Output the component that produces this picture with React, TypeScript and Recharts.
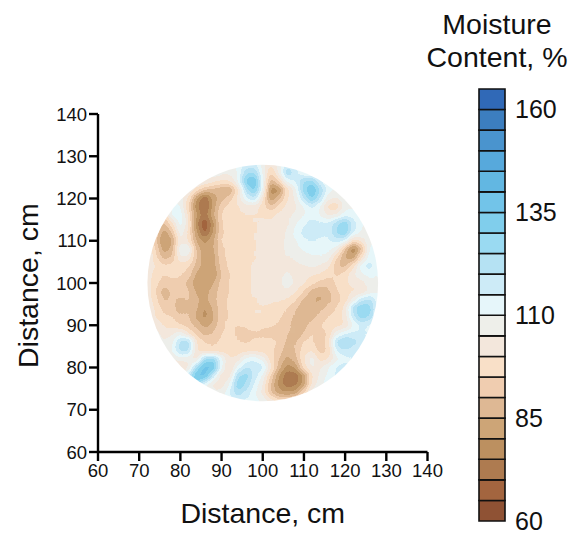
import { ScatterChart, Scatter, XAxis, YAxis, BarChart, Bar } from 'recharts'

// axis ticks
const distanceTicks = [60, 70, 80, 90, 100, 110, 120, 130, 140]
const legendTicks = [60, 85, 110, 135, 160]

// grid the moisture was read on, cm
const gridX = [70, 72, 74, 76, 78, 80, 82, 84, 86, 88, 90, 92, 94, 96, 98, 100, 102, 104, 106, 108, 110, 112, 114, 116, 118, 120, 122, 124, 126, 128, 130]
const gridY = [130, 128, 126, 124, 122, 120, 118, 116, 114, 112, 110, 108, 106, 104, 102, 100, 98, 96, 94, 92, 90, 88, 86, 84, 82, 80, 78, 76, 74, 72, 70]

// moisture content, %, one row per gridY and one column per gridX
const moisture = [
  [108, 108, 108, 108, 108, 108, 108, 108, 108, 108, 108, 108, 110, 112, 112, 108, 106, 108, 112, 110, 108, 108, 108, 108, 108, 108, 108, 108, 108, 108, 108],
  [108, 108, 108, 108, 108, 108, 108, 108, 108, 108, 108, 108, 112, 116, 116, 108, 100, 108, 118, 112, 108, 108, 108, 108, 108, 108, 108, 108, 108, 108, 108],
  [108, 108, 108, 108, 108, 108, 108, 108, 108, 108, 107, 106, 110, 124, 126, 110, 94, 106, 125, 118, 110, 108, 108, 108, 108, 108, 108, 108, 108, 108, 108],
  [108, 108, 108, 108, 108, 108, 108, 107, 106, 102, 100, 100, 110, 132, 138, 112, 86, 96, 112, 115, 125, 128, 115, 110, 108, 108, 108, 108, 108, 108, 108],
  [108, 108, 108, 108, 108, 108, 107, 98, 90, 88, 86, 84, 98, 122, 132, 112, 76, 78, 98, 108, 128, 136, 125, 112, 110, 108, 108, 108, 108, 108, 108],
  [108, 108, 108, 108, 108, 108, 100, 80, 70, 82, 88, 92, 101, 114, 120, 102, 80, 88, 100, 106, 120, 132, 120, 106, 105, 108, 108, 108, 108, 108, 108],
  [110, 110, 110, 110, 110, 112, 95, 76, 68, 82, 93, 97, 100, 103, 103, 98, 90, 97, 102, 104, 110, 116, 110, 98, 96, 108, 110, 110, 110, 110, 110],
  [108, 108, 108, 94, 112, 114, 100, 80, 72, 84, 96, 98, 99, 100, 100, 100, 99, 102, 104, 106, 110, 112, 110, 104, 106, 113, 112, 110, 110, 110, 110],
  [107, 107, 100, 88, 98, 114, 102, 76, 65, 78, 95, 98, 98, 99, 100, 101, 101, 102, 104, 110, 114, 118, 116, 116, 124, 130, 118, 110, 110, 110, 110],
  [106, 106, 96, 82, 90, 110, 100, 80, 68, 80, 94, 97, 97, 98, 100, 101, 102, 103, 106, 112, 117, 118, 117, 116, 126, 131, 116, 110, 110, 110, 110],
  [106, 106, 92, 78, 84, 104, 100, 84, 78, 84, 96, 97, 96, 97, 100, 102, 103, 104, 106, 110, 114, 115, 114, 114, 118, 116, 98, 102, 110, 110, 110],
  [107, 107, 95, 82, 86, 110, 112, 88, 82, 84, 94, 96, 96, 97, 100, 102, 103, 104, 106, 108, 111, 112, 112, 112, 108, 90, 74, 88, 112, 110, 110],
  [108, 108, 97, 88, 90, 105, 104, 90, 82, 82, 94, 96, 97, 98, 100, 102, 103, 104, 105, 106, 108, 110, 110, 108, 96, 84, 82, 98, 114, 110, 110],
  [107, 107, 100, 96, 97, 98, 96, 88, 82, 82, 92, 96, 98, 99, 101, 102, 103, 103, 104, 104, 105, 106, 105, 102, 90, 88, 98, 114, 118, 110, 110],
  [104, 104, 98, 95, 96, 96, 93, 84, 80, 80, 90, 95, 98, 99, 101, 102, 103, 104, 106, 104, 102, 101, 100, 97, 94, 97, 105, 110, 112, 110, 110],
  [104, 104, 97, 92, 94, 93, 89, 81, 80, 84, 92, 95, 97, 99, 101, 102, 103, 104, 108, 105, 101, 97, 93, 92, 96, 100, 101, 103, 108, 110, 110],
  [104, 104, 95, 87, 91, 93, 91, 84, 82, 88, 92, 95, 97, 99, 101, 102, 102, 103, 105, 101, 95, 88, 86, 89, 94, 98, 100, 100, 106, 110, 110],
  [105, 105, 97, 89, 91, 89, 91, 86, 84, 88, 93, 96, 98, 100, 100, 101, 101, 101, 100, 96, 89, 85, 84, 88, 92, 97, 106, 118, 122, 112, 110],
  [107, 107, 99, 93, 93, 86, 89, 86, 79, 86, 93, 96, 97, 99, 100, 100, 99, 97, 95, 91, 86, 85, 88, 92, 95, 102, 122, 131, 128, 112, 110],
  [108, 108, 100, 96, 95, 91, 91, 84, 78, 84, 94, 95, 97, 99, 100, 100, 98, 96, 93, 89, 86, 88, 92, 95, 97, 102, 118, 129, 125, 112, 110],
  [110, 110, 104, 100, 98, 95, 92, 88, 83, 86, 94, 96, 95, 96, 97, 97, 96, 94, 92, 87, 88, 92, 95, 97, 98, 100, 110, 116, 114, 112, 110],
  [110, 110, 108, 102, 104, 108, 100, 93, 88, 90, 95, 96, 94, 93, 94, 93, 92, 92, 91, 85, 90, 96, 92, 96, 108, 114, 116, 116, 114, 112, 110],
  [110, 110, 109, 106, 108, 122, 124, 100, 95, 94, 96, 97, 95, 94, 96, 97, 97, 94, 89, 89, 96, 96, 91, 98, 122, 128, 122, 118, 114, 112, 110],
  [108, 108, 108, 106, 110, 122, 122, 100, 96, 96, 97, 98, 97, 98, 98, 98, 96, 93, 87, 90, 98, 100, 92, 96, 116, 120, 117, 115, 114, 112, 110],
  [108, 108, 108, 104, 104, 108, 106, 102, 125, 128, 112, 100, 102, 112, 114, 108, 98, 90, 83, 88, 100, 108, 98, 100, 108, 113, 115, 114, 112, 110, 110],
  [108, 108, 108, 102, 100, 98, 104, 125, 138, 136, 112, 98, 112, 120, 118, 118, 102, 87, 78, 81, 98, 106, 104, 110, 116, 118, 114, 112, 110, 110, 110],
  [108, 108, 108, 108, 100, 102, 118, 136, 138, 118, 102, 102, 124, 128, 118, 110, 94, 80, 71, 71, 80, 100, 106, 112, 116, 115, 114, 112, 110, 110, 110],
  [108, 108, 108, 108, 108, 110, 128, 128, 112, 104, 102, 110, 130, 125, 114, 106, 90, 78, 72, 73, 82, 102, 108, 114, 116, 114, 112, 110, 110, 110, 110],
  [108, 108, 108, 108, 108, 112, 118, 114, 108, 106, 106, 115, 124, 118, 112, 104, 90, 82, 80, 82, 94, 108, 112, 114, 112, 110, 110, 110, 110, 110, 110],
  [108, 108, 108, 108, 108, 108, 108, 108, 108, 108, 108, 112, 116, 114, 112, 110, 104, 98, 98, 102, 112, 112, 112, 110, 110, 110, 110, 110, 110, 110, 110],
  [108, 108, 108, 108, 108, 108, 108, 108, 108, 108, 108, 110, 110, 110, 110, 110, 110, 110, 110, 110, 110, 110, 110, 110, 110, 110, 110, 110, 110, 110, 110],
]

const bandFloor = 60
const bandStep = 5
const bandColors = [
  '#8F5234', '#A3653F', '#AE7B50', '#BC9060', '#CDA577', '#DEB894', '#F0CDB0',
  '#F9E0C8', '#F3E7DC', '#EEEFEA', '#E6F6FA', '#CDEBF7', '#B5E2F3', '#9ADAF2',
  '#80CEEC', '#72C4E9', '#62B7E2', '#57A9DC', '#4A94CE', '#3C7EBF', '#3069B7',
]

const WIDTH = 579
const HEIGHT = 535
const PLOT = { left: 98, right: 427.5, top: 114, bottom: 452 }
const FONT = '"Liberation Sans", Arial, sans-serif'
const INK = '#111'

const pxPerCmX = (PLOT.right - PLOT.left) / 80
const pxPerCmY = (PLOT.bottom - PLOT.top) / 80
const cellW = 2 * pxPerCmX + 0.6
const cellH = 2 * pxPerCmY + 0.6

const bandTop = bandFloor + bandColors.length * bandStep

const cells = moisture.flatMap((row, i) =>
  row.map((value, j) => ({ x: gridX[j], y: gridY[i], value })),
)

const legendRow = bandColors.reduce<Record<string, number | string>>(
  (acc, _, i) => ({ ...acc, [`band${i}`]: bandStep }),
  { name: 'moisture' },
)

function channelTable(offset: number) {
  return bandColors.map((c) => (parseInt(c.slice(offset, offset + 2), 16) / 255).toFixed(3)).join(' ')
}

// cells are drawn as grey levels, the filter smooths them and turns them into the colour bands
function Cell(props: any) {
  const { cx, cy, payload } = props
  const grey = Math.round((255 * (payload.value - bandFloor)) / (bandTop - bandFloor))
  return (
    <rect
      x={cx - cellW / 2}
      y={cy - cellH / 2}
      width={cellW}
      height={cellH}
      fill={`rgb(${grey},${grey},${grey})`}
    />
  )
}

export default function App() {
  return (
    <div style={{ position: 'absolute', left: 0, top: 0, width: WIDTH, height: HEIGHT, background: '#fff', fontFamily: FONT }}>
      <style>{`.moisture-map { filter: url(#bands); clip-path: url(#disc); }`}</style>
      <svg width={0} height={0} style={{ position: 'absolute' }}>
        <defs>
          <filter id="bands" x="-5%" y="-5%" width="110%" height="110%" colorInterpolationFilters="sRGB">
            <feGaussianBlur stdDeviation="3" />
            <feComponentTransfer>
              <feFuncR type="discrete" tableValues={channelTable(1)} />
              <feFuncG type="discrete" tableValues={channelTable(3)} />
              <feFuncB type="discrete" tableValues={channelTable(5)} />
            </feComponentTransfer>
            <feGaussianBlur stdDeviation="0.6" />
          </filter>
          <clipPath id="disc">
            <ellipse
              cx={PLOT.left + 40 * pxPerCmX}
              cy={PLOT.bottom - 40 * pxPerCmY}
              rx={28 * pxPerCmX}
              ry={28 * pxPerCmY}
            />
          </clipPath>
        </defs>
      </svg>

      <ScatterChart
        width={WIDTH}
        height={HEIGHT}
        margin={{ left: PLOT.left - 60, right: WIDTH - PLOT.right, top: PLOT.top, bottom: HEIGHT - PLOT.bottom - 60 }}
        style={{ position: 'absolute', left: 0, top: 0 }}
      >
        <XAxis
          type="number"
          dataKey="x"
          domain={[60, 140]}
          ticks={distanceTicks}
          interval={0}
          height={60}
          tickSize={9}
          tickMargin={3}
          stroke="#000"
          strokeWidth={2.4}
          tick={{ fontSize: 18.5, fill: INK, fontFamily: FONT, strokeWidth: 0 }}
          label={{ value: 'Distance, cm', position: 'insideBottom', offset: -11, fontSize: 28.5, fill: INK, fontFamily: FONT }}
        />
        <YAxis
          type="number"
          dataKey="y"
          domain={[60, 140]}
          ticks={distanceTicks}
          interval={0}
          width={60}
          tickSize={9}
          tickMargin={2}
          stroke="#000"
          strokeWidth={2.4}
          tick={{ fontSize: 18.5, fill: INK, fontFamily: FONT, strokeWidth: 0 }}
          label={{ value: 'Distance, cm', angle: -90, position: 'insideLeft', offset: -10, dy: 85, fontSize: 28.5, fill: INK, fontFamily: FONT }}
        />
        <Scatter className="moisture-map" data={cells} shape={Cell} isAnimationActive={false} />
      </ScatterChart>

      <div
        style={{
          position: 'absolute',
          left: 417,
          top: 8,
          width: 160,
          textAlign: 'center',
          fontSize: 28.5,
          lineHeight: '33px',
          color: INK,
        }}
      >
        Moisture
        <br />
        Content, %
      </div>

      <BarChart
        width={109}
        height={460}
        data={[legendRow]}
        barCategoryGap={0}
        margin={{ left: 9, right: 0, top: 14, bottom: 14 }}
        style={{ position: 'absolute', left: 470, top: 75 }}
      >
        <XAxis dataKey="name" hide />
        <YAxis
          type="number"
          orientation="right"
          domain={[0, bandTop - bandFloor]}
          ticks={legendTicks.map((t) => t - bandFloor)}
          tickFormatter={(t: number) => String(t + bandFloor)}
          interval={0}
          width={74}
          axisLine={false}
          tickLine={false}
          tickMargin={4}
          tick={{ fontSize: 25, fill: INK, fontFamily: FONT }}
        />
        {bandColors.map((color, i) => (
          <Bar
            key={color}
            dataKey={`band${i}`}
            stackId="bands"
            fill={color}
            stroke="#111"
            strokeWidth={1.6}
            isAnimationActive={false}
          />
        ))}
      </BarChart>
    </div>
  )
}
